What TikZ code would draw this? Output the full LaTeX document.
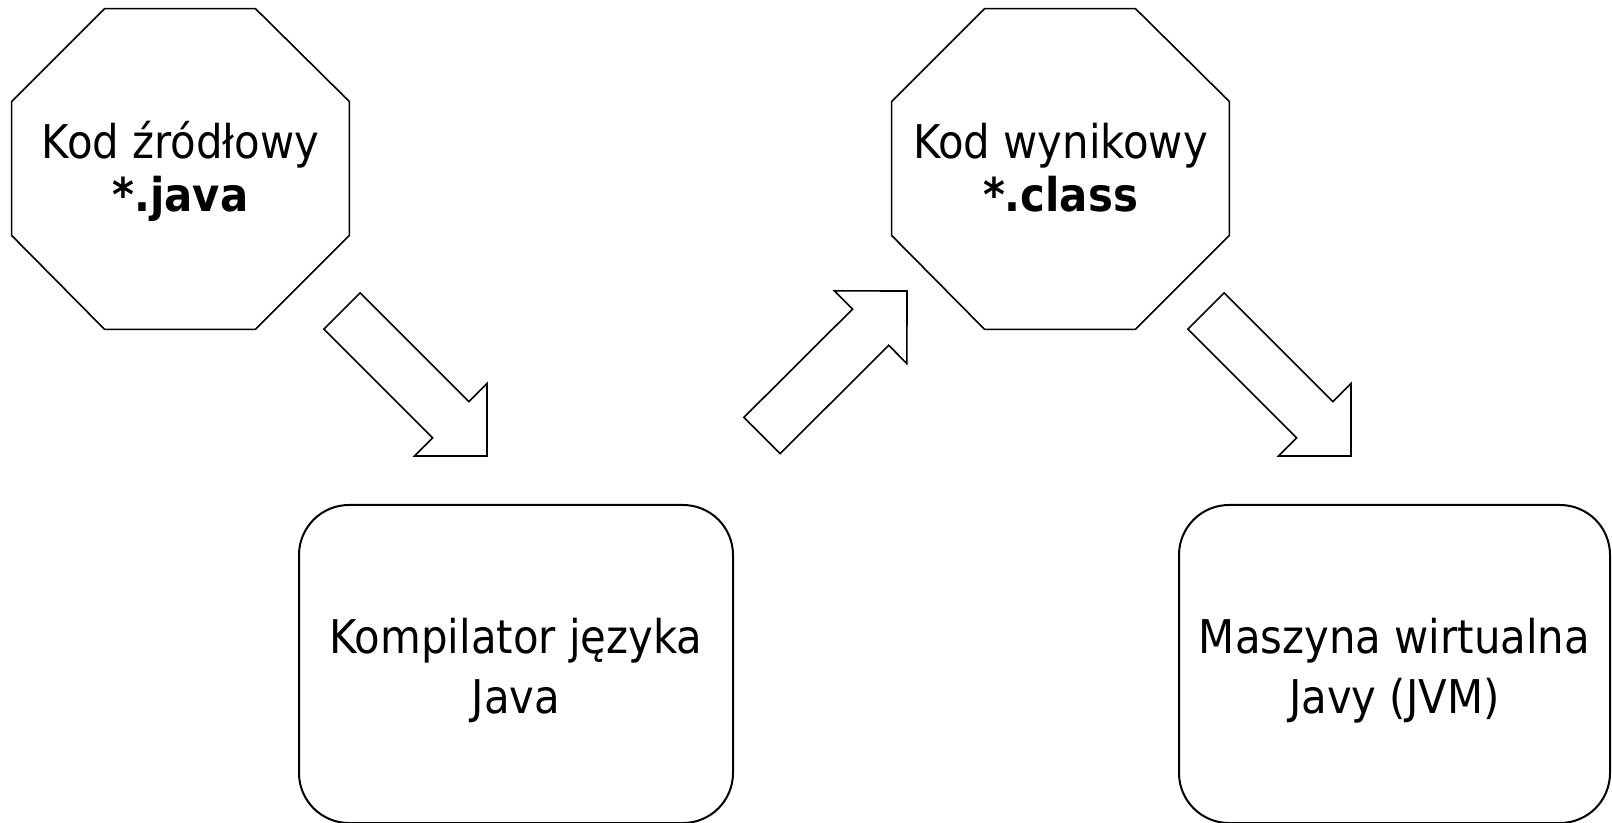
\documentclass[tikz,border=0pt]{standalone}
\usepackage{fontspec}
\setmainfont{DejaVu Sans Condensed}
\usetikzlibrary{calc}
\newcommand{\blockarrow}[2]{%
  \coordinate (#1h) at ($(#2)!25.65pt!(#1)$);
  \draw[blk] ($(#1)!12.8pt!90:(#2)$) -- ($(#1h)!12.8pt!90:(#2)$) -- ($(#1h)!25.65pt!90:(#2)$) -- (#2)
    -- ($(#1h)!25.65pt!-90:(#2)$) -- ($(#1h)!12.8pt!-90:(#2)$) -- ($(#1)!12.8pt!-90:(#2)$) -- cycle;}
\begin{document}
\begin{tikzpicture}[x=0.5pt,y=-0.5pt,
  octa/.style={font=\fontsize{23.25pt}{26.5pt}\selectfont, align=center,
    minimum width=168.5pt, minimum height=160pt, inner sep=0pt,
    text height=43pt, text depth=0pt},
  rbox/.style={draw, line width=1pt, rounded corners=25pt,
    minimum width=217pt, minimum height=159pt, inner sep=0pt,
    font=\fontsize{23.25pt}{30pt}\selectfont, align=center,
    text height=49pt, text depth=0pt},
  edge/.style={draw, line width=0.8pt, line join=miter},
  blk/.style={draw, line width=0.8pt, fill=white, line join=miter}
]
\useasboundingbox[fill=white] (0,0) rectangle (1612,823);

% octagons
\node[octa] (src) at (180.5,169) {Kod źródłowy\\\textbf{*.java}};
\node[octa] (cls) at (1060.5,169) {Kod wynikowy\\\textbf{*.class}};
\foreach \n in {src,cls}{
  \draw[edge] ($(\n.north west)+(93,0)$) -- ($(\n.north east)+(-94,0)$)
    -- ($(\n.north east)+(0,93)$) -- ($(\n.south east)+(0,-94)$)
    -- ($(\n.south east)+(-94,0)$) -- ($(\n.south west)+(93,0)$)
    -- ($(\n.south west)+(0,-94)$) -- ($(\n.north west)+(0,93)$) -- cycle;
}

% rounded boxes
\node[rbox] (comp) at (516,664) {Kompilator języka\\Java};
\node[rbox, minimum width=215.5pt] (jvm) at (1394.5,664) {Maszyna wirtualna\\Javy (JVM)};

% block arrows
\coordinate (t1) at (342,311); \coordinate (p1) at (487,456);
\coordinate (t2) at (762,435.5); \coordinate (p2) at (907,291);
\coordinate (t3) at (1206,311); \coordinate (p3) at (1351,456);
\blockarrow{t1}{p1}
\blockarrow{t2}{p2}
\blockarrow{t3}{p3}
\end{tikzpicture}
\end{document}
